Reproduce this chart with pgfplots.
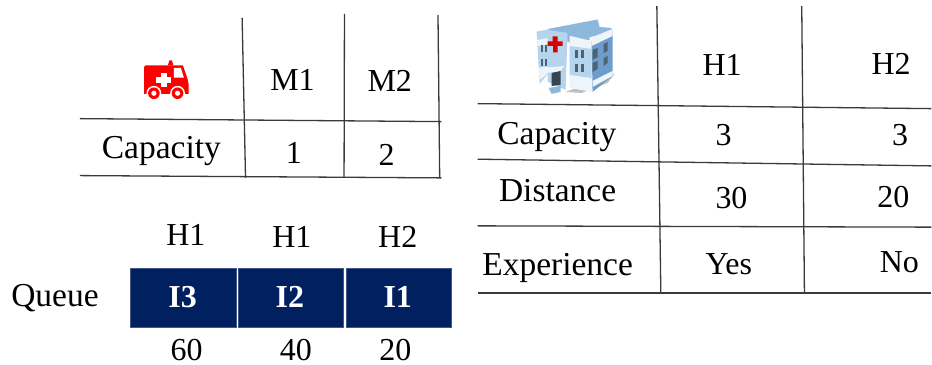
\documentclass[border=0pt]{standalone}
\usepackage{fontspec}
\setmainfont{Liberation Serif}
\usepackage{pgfplots}
\pgfplotsset{compat=1.18}
\definecolor{navy}{HTML}{002060}
\definecolor{ln}{HTML}{3A3A3A}
\definecolor{hLight}{HTML}{B5D4EE}
\definecolor{hMid}{HTML}{8DB8DE}
\definecolor{hDark}{HTML}{6E9DCB}
\definecolor{hWin}{HTML}{4F6272}
\definecolor{hWhite}{HTML}{EEF5FA}
\newcommand\T[4][33.5]{\node[anchor=base,inner sep=0pt,font=\fontsize{#1}{#1}\selectfont] at (axis cs:#2,#3) {#4};}
\newcommand\Lin[4]{\addplot[ln,line width=1.3pt,forget plot] coordinates {(#1,#2) (#3,#4)};}
\newcommand\Cell[4]{\addplot[fill=navy,draw=navy!75!white,line width=0.5pt,forget plot] coordinates {(#1,#3) (#2,#3) (#2,#4) (#1,#4)} --cycle;}
\begin{document}
\begin{tikzpicture}
\begin{axis}[at={(0,0)},anchor=south west,scale only axis,width=932pt,height=365pt,
  xmin=0,xmax=932,ymin=0,ymax=365,y dir=reverse,hide axis,clip=false]
\path (axis cs:0,0) rectangle (axis cs:932,365);
% ambulance table
\Lin{242.3}{18}{245.7}{178}
\Lin{344.7}{14}{344.3}{178}
\Lin{438.3}{15}{440}{178}
\Lin{80}{118.7}{441.7}{121.7}
\Lin{80}{175.7}{441.7}{178}
% hospital table
\Lin{657.3}{6}{661.3}{293}
\Lin{802.3}{6}{805}{293}
\Lin{478}{103.7}{932}{108.7}
\Lin{478}{159.3}{932}{166}
\Lin{478}{226}{932}{227.3}
\Lin{478}{293.3}{932}{293.3}
% queue
\Cell{130}{236}{268.7}{327}
\Cell{238}{343.7}{268.7}{327}
\Cell{346}{452}{268.7}{327}
% ambulance icon
\fill[red] (144.3,67) -- (145.5,65.3) -- (183,65.3) -- (188,80) -- (188.7,84) -- (188.7,94) -- (144.3,94) -- cycle;
\fill[red] (168,65.3) -- (169.5,60.5) -- (172,60.5) -- (173.5,65.3) -- cycle;
\fill[white] (174,68) -- (181,68) -- (184,77.7) -- (174,77.7) -- cycle;
\fill[white] (160.7,72.7) rectangle (166.7,87.3);
\fill[white] (156.4,77) rectangle (171,83);
\fill[white] (154,93.3) circle[radius=7.4];
\fill[white] (177.7,93.3) circle[radius=7.4];
\fill[red] (154,93.3) circle[radius=5.8];
\fill[red] (177.7,93.3) circle[radius=5.8];
\fill[white] (154,93.3) circle[radius=2.6];
\fill[white] (177.7,93.3) circle[radius=2.6];
% hospital icon
\fill[black!25] (566,92) -- (608,76) -- (615,74) -- (608,83) -- (582,93) -- cycle;
\fill[hMid] (548,29) -- (598,19.5) -- (600,27) -- (612,28) -- (612,32) -- (570,42) -- (548,38) -- cycle;
\fill[hLight] (537,31.5) -- (549,29.5) -- (550,72) -- (540,84) -- cycle;
\fill[hWhite] (537.5,40) -- (549,38) -- (549,44) -- (538,46) -- cycle;
\fill[hWhite] (539,68) -- (550,66) -- (550,72) -- (540,80) -- cycle;
\fill[hLight] (548,30) -- (568,33) -- (566,90) -- (548,82) -- cycle;
\fill[hMid] (568,33) -- (590,28) -- (590,40) -- (570,44) -- cycle;
\fill[hWhite] (570,36) -- (571,36) -- (592,41) -- (593,92) -- (570,88) -- cycle;
\fill[hLight] (570,46) -- (592,49) -- (592,78) -- (570,75) -- cycle;
\fill[hDark] (592,41) -- (613,30) -- (613,76) -- (593,92) -- cycle;
\fill[hWhite] (592,37.5) -- (613,29) -- (613,36) -- (592,46) -- cycle;
\fill[hWhite] (593,81) -- (613,71) -- (613,76) -- (593,87) -- cycle;
% windows
\fill[hWin] (541,45) rectangle (543,52.5);
\fill[hWin] (545,45) rectangle (547,52.5);
\fill[hWin] (541,59) rectangle (543,66);
\fill[hWin] (545,59) rectangle (547,66);
\fill[hWin] (575,50) rectangle (578,58);
\fill[hWin] (581,50) rectangle (584,58);
\fill[hWin] (575,64) rectangle (578,72);
\fill[hWin] (581,64) rectangle (584,72);
\fill[hWin] (593,50) -- (598,48) -- (598,57) -- (593,60) -- cycle;
\fill[hWin] (604,44) -- (608,42) -- (608,51) -- (604,53) -- cycle;
\fill[hWin] (593,63) -- (598,61) -- (598,69) -- (593,72) -- cycle;
\fill[hWin] (604,58) -- (608,56) -- (608,63) -- (604,66) -- cycle;
% entrance
\fill[hWhite] (542,68) -- (565,66) -- (560,72) -- (544,73) -- cycle;
\fill[hWin!70!black] (552,73) -- (561,71) -- (561,85) -- (552,86) -- cycle;
\fill[hMid] (549,88) -- (561,86) -- (561,92) -- (552,94) -- cycle;
% cross
\fill[red!85!black] (553,36.5) -- (558,36.5) -- (558,41.5) -- (563,41.5) -- (563,46) -- (558,46) -- (558,52.5) -- (553.5,52.5) -- (553.5,46) -- (548,46) -- (548,41.5) -- (553,41.5) -- cycle;
% texts: ambulance table
\T[32]{292.7}{91}{M1}
\T[32]{390}{91.7}{M2}
\T{161.5}{158.3}{Capacity}
\T[32]{294}{163.7}{1}
\T[32]{387}{165.7}{2}
% queue texts
\T[32]{186}{246}{H1}
\T[32]{292}{248}{H1}
\T[32]{398}{247.7}{H2}
\T{55}{307}{Queue}
\node[anchor=base,inner sep=0pt,text=white,font=\fontsize{32}{32}\selectfont\bfseries] at (axis cs:182.7,308) {I3};
\node[anchor=base,inner sep=0pt,text=white,font=\fontsize{32}{32}\selectfont\bfseries] at (axis cs:290,308) {I2};
\node[anchor=base,inner sep=0pt,text=white,font=\fontsize{32}{32}\selectfont\bfseries] at (axis cs:398,308) {I1};
\T[32]{186.7}{361}{60}
\T[32]{296}{361}{40}
\T[32]{395.7}{361}{20}
% texts: hospital table
\T[32]{722.7}{76}{H1}
\T[32]{891.7}{75}{H2}
\T{557.2}{145}{Capacity}
\T[32]{724}{145.3}{3}
\T[32]{900.7}{146}{3}
\T{558}{202}{Distance}
\T[32]{732}{208.7}{30}
\T[32]{894}{207.7}{20}
\T{558}{276}{Experience}
\T[32]{729.3}{274.3}{Yes}
\T[32]{900}{272.7}{No}
\end{axis}
\end{tikzpicture}
\end{document}
